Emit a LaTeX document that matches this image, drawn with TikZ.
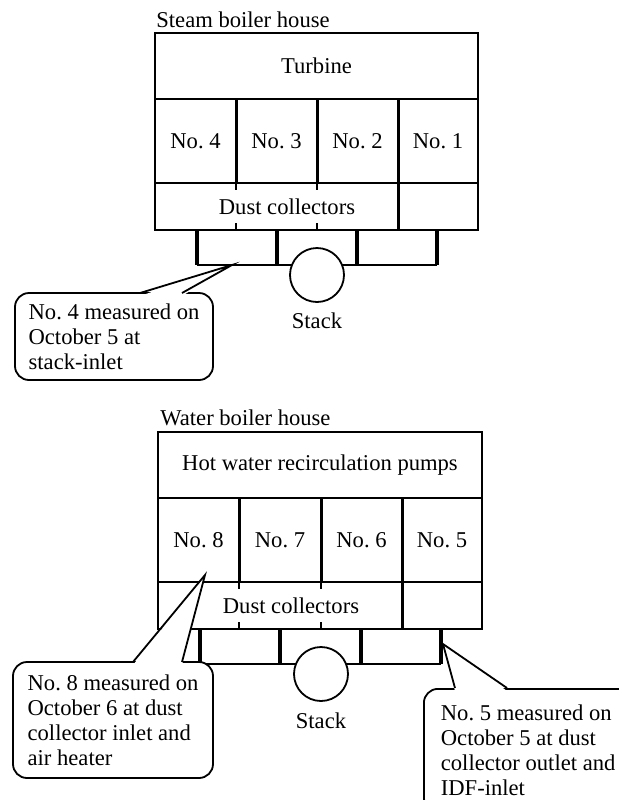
\documentclass[tikz,border=0pt]{standalone}
\usepackage{fontspec}
\setmainfont{Liberation Serif}
\usepackage{tikz}

\tikzset{
  house/.style={line width=0.9pt},
  divider/.style={line width=1.5pt},
  duct/.style={line width=1.7pt},
  ductbase/.style={line width=0.7pt},
  cell/.style={inner sep=0pt},
  stackcirc/.style={draw, circle, fill=white, line width=0.9pt, minimum size=27pt, inner sep=0pt},
  callout/.style={draw, fill=white, line width=0.9pt, rounded corners=7pt, align=left},
  pointer/.style={line width=0.9pt, line join=miter}
}

\begin{document}
\begin{tikzpicture}[x=0.5pt, y=-0.5pt, every node/.style={font=\fontsize{11.3}{12.5}\selectfont\frenchspacing}]
  \useasboundingbox (0,0) rectangle (619,800);
  \clip (0,0) rectangle (619,800);

  % steam boiler house
  \node[cell, anchor=base west] (steamtitle) at (156,27) {Steam boiler house};
  \draw[house] (155,33) rectangle (478,230);
  \draw[house] (155,99) -- (478,99) (155,183) -- (478,183);
  \draw[divider] (236,99) -- (236,183) (317,99) -- (317,183) (398,99) -- (398,230);
  \draw[house] (236,183) -- (236,190) (236,223) -- (236,230) (317,183) -- (317,190) (317,223) -- (317,230);
  \node[cell] (turbine) at (316.5,66) {Turbine};
  \node[cell] (boiler4) at (195.5,141) {No. 4};
  \node[cell] (boiler3) at (276.5,141) {No. 3};
  \node[cell] (boiler2) at (357.5,141) {No. 2};
  \node[cell] (boiler1) at (438,141) {No. 1};
  \node[cell] (dust1) at (287,207) {Dust collectors};
  \foreach \x in {197,277,357,437}
    \draw[duct] (\x,230) -- (\x,265);
  \draw[ductbase] (197,265) -- (437,265);
  \node[stackcirc] (stack1) at (317,275) {};
  \node[cell] (stacklbl1) at (317,321) {Stack};

  % water boiler house
  \node[cell, anchor=base west] (watertitle) at (160,425) {Water boiler house};
  \draw[house] (158,432) rectangle (482,629);
  \draw[house] (158,498) -- (482,498) (158,582) -- (482,582);
  \draw[divider] (239,498) -- (239,582) (321,498) -- (321,582) (402,498) -- (402,629);
  \draw[house] (239,582) -- (239,589) (239,622) -- (239,629) (321,582) -- (321,589) (321,622) -- (321,629);
  \node[cell] (pumps) at (320,465) {Hot water recirculation pumps};
  \node[cell] (boiler8) at (198.5,540) {No. 8};
  \node[cell] (boiler7) at (280,540) {No. 7};
  \node[cell] (boiler6) at (361.5,540) {No. 6};
  \node[cell] (boiler5) at (442,540) {No. 5};
  \node[cell] (dust2) at (291,606) {Dust collectors};
  \foreach \x in {200,280,361,441}
    \draw[duct] (\x,629) -- (\x,664);
  \draw[ductbase] (200,664) -- (441,664);
  \node[stackcirc] (stack2) at (321,674) {};
  \node[cell] (stacklbl2) at (321,721) {Stack};

  % measuring points
  \node[callout, minimum width=99pt, minimum height=43.5pt] (note4) at (114,336.5)
    {No. 4 measured on\\October 5 at\\stack-inlet};
  \coordinate (tip4) at (232,265);
  \coordinate (n4a) at (140,293);
  \coordinate (n4b) at (182,293);
  \fill[white] ([yshift=-1.5pt]n4a) -- (tip4) -- ([yshift=-1.5pt]n4b) -- cycle;
  \draw[pointer] (n4a) -- (tip4) -- (n4b);

  \node[callout, minimum width=100pt, minimum height=58pt] (note8) at (113,720)
    {No. 8 measured on\\October 6 at dust\\collector inlet and\\air heater};
  \coordinate (tip8) at (205,575);
  \coordinate (n8a) at (133,662);
  \coordinate (n8b) at (182,662);
  \fill[white] ([yshift=-1.5pt]n8a) -- (tip8) -- ([yshift=-1.5pt]n8b) -- cycle;
  \draw[pointer] (n8a) -- (tip8) -- (n8b);

  \node[callout, anchor=north west, inner xsep=8.5pt, inner ysep=8pt] (note5) at (423,688)
    {No. 5 measured on\\October 5 at dust\\collector outlet and\\IDF-inlet};
  \coordinate (tip5) at (443,644);
  \coordinate (n5a) at (455,688);
  \coordinate (n5b) at (507,688);
  \fill[white] ([yshift=-1.5pt]n5a) -- (tip5) -- ([yshift=-1.5pt]n5b) -- cycle;
  \draw[pointer] (n5a) -- (tip5) -- (n5b);
\end{tikzpicture}
\end{document}
